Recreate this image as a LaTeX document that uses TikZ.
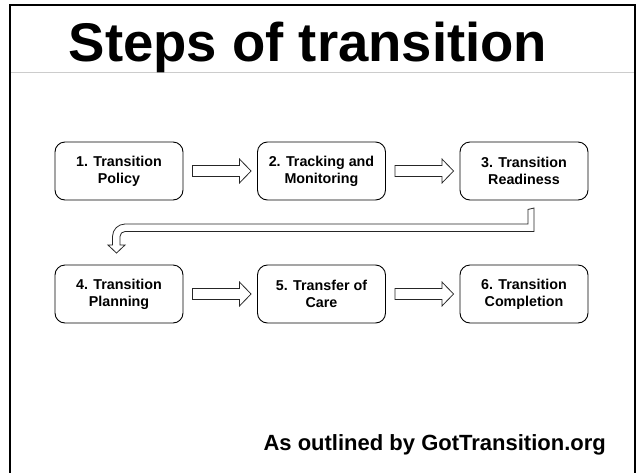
\documentclass[tikz,border=0pt]{standalone}
\usepackage{fontspec}
\setmainfont{Liberation Sans}
\usetikzlibrary{calc}
\begin{document}
\begin{tikzpicture}[x=1pt,y=-1pt,
  stepbox/.style={draw, line width=0.9pt, rounded corners=10pt, minimum width=128pt, minimum height=58pt, align=center, inner sep=2pt, font=\fontsize{14.3}{17}\selectfont\bfseries},
  blk/.style={draw=black!85, line width=0.8pt, fill=white, line join=miter},
  frame/.style={line width=2pt}]
\useasboundingbox (0,0) rectangle (638,472);
% frame
\draw[frame] (10,480) -- (10,5) -- (635,5) -- (635,480);
\draw[black!20, line width=0.8pt] (11,72) -- (634,72);
% title
\node[anchor=base, inner sep=0, font=\fontsize{54.5}{60}\selectfont\bfseries] (title) at (308,61) {Steps of transition};
% boxes
\node[stepbox] (b1) at (119,171) {1. Transition\\Policy};
\node[stepbox] (b2) at (321.5,171) {2. Tracking and\\Monitoring};
\node[stepbox] (b3) at (524,171) {3. Transition\\Readiness};
\node[stepbox] (b4) at (119,294) {4. Transition\\Planning};
\node[stepbox] (b5) at (321.5,294) {5. Transfer of\\Care};
\node[stepbox] (b6) at (524,294) {6. Transition\\Completion};
% block arrows
\foreach \a/\b in {b1/b2,b2/b3,b4/b5,b5/b6}{
  \draw[blk] ($(\a.east)+(9,-5.5)$) -- ++(47,0) -- ++(0,-6.5) -- ($(\b.west)+(-6,0)$) -- ($(\a.east)+(56,12)$) -- ++(0,-6.5) -- ++(-47,0) -- cycle;
}
% bent arrow from b3 to b4
\coordinate (tail) at ($(b3.south)+(4,9)$);
\coordinate (tip) at ($(b4.north)+(-2.5,-11.5)$);
\draw[blk] (tail) -- (534,208) -- (534,231.5) -- (125,231.5)
  .. controls (122.2,231.5) and (120,233.7) .. (120,236.5)
  -- (120,245) -- (125,245) -- (tip) -- (108,245) -- (112.5,245) -- (112.5,236.5)
  .. controls (112.5,229.6) and (118.1,224) .. (125,224)
  -- (528,224) -- cycle;
% footer
\node[anchor=base east, inner sep=0, font=\fontsize{22}{25}\selectfont\bfseries] (foot) at (606,450) {As outlined by GotTransition.org};
\end{tikzpicture}
\end{document}
